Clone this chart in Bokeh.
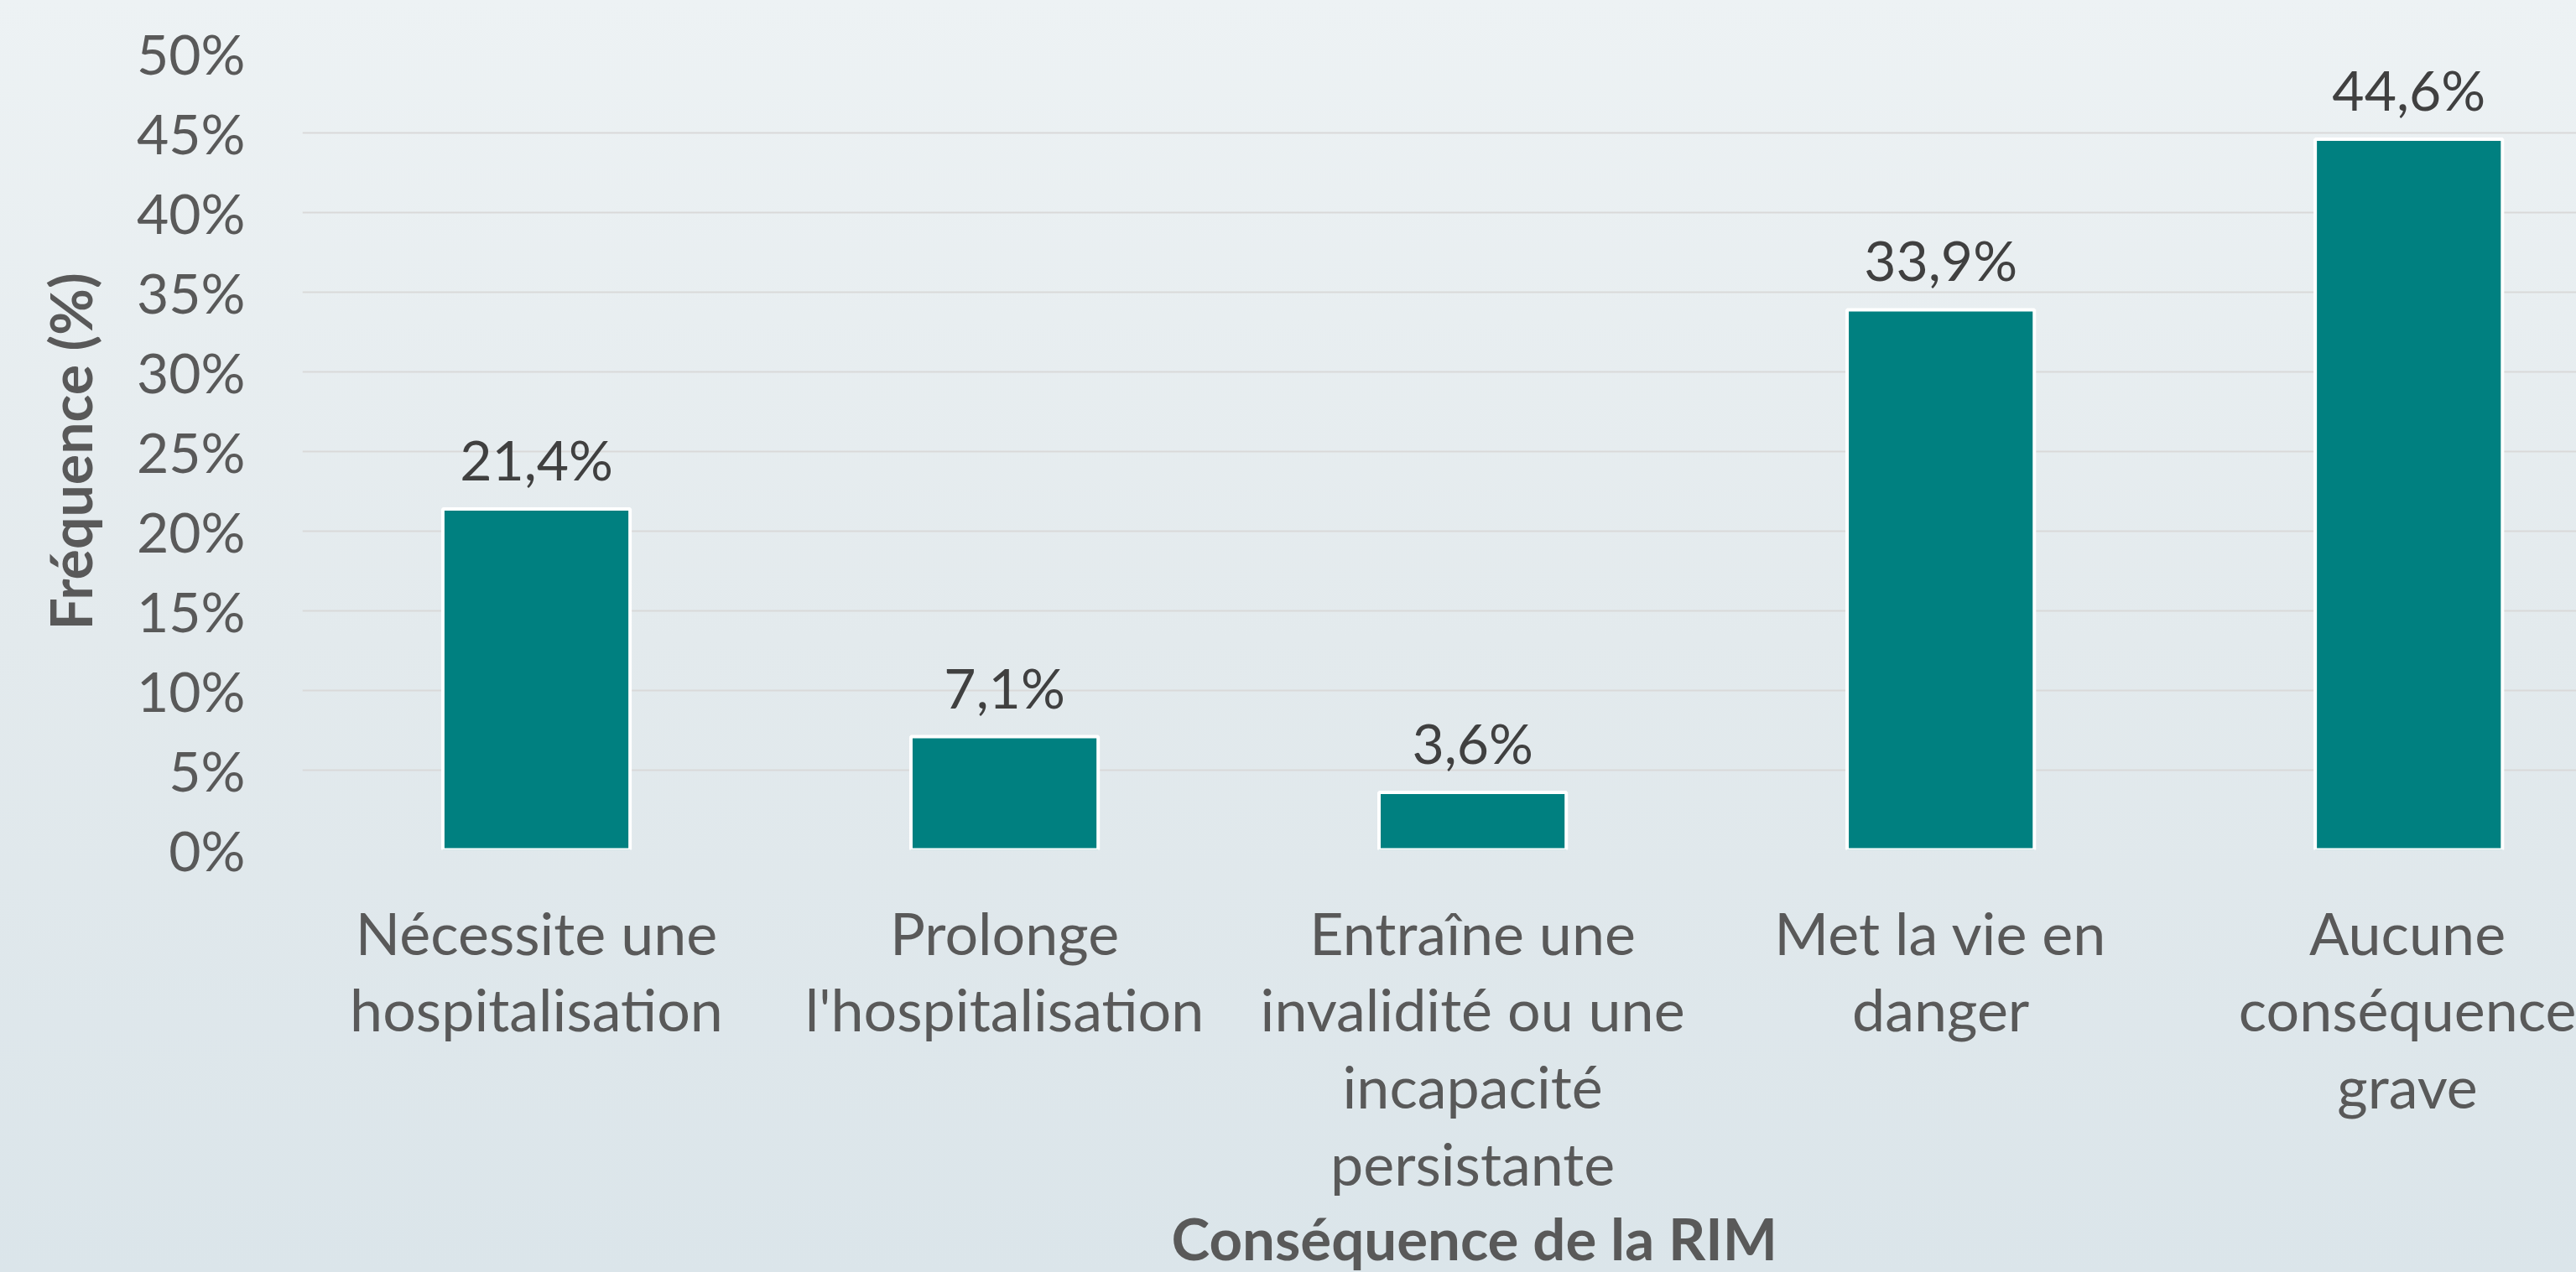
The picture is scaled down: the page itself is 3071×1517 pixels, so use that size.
from bokeh.plotting import figure
from bokeh.models import (Range1d, FixedTicker, PrintfTickFormatter, Title,
                          ColumnDataSource, InlineStyleSheet)
from bokeh.core.properties import value
from bokeh.embed import file_html
from bokeh.resources import INLINE

# ---- data ----
categories = [
    "Nécessite une\nhospitalisation",
    "Prolonge\nl'hospitalisation",
    "Entraîne une\ninvalidité ou une\nincapacité\npersistante",
    "Met la vie en\ndanger",
    "Aucune\nconséquence\ngrave",
]
values = [21.4, 7.1, 3.6, 33.9, 44.6]
y_ticks = [0, 5, 10, 15, 20, 25, 30, 35, 40, 45, 50]
x_title = "Conséquence de la RIM"
y_title = "Fréquence (%)"

FONT = "Lato"
TXT = "#595959"

positions = list(range(len(categories)))
labels = [f"{v:.1f}".replace(".", ",") + "%" for v in values]
src = ColumnDataSource(dict(x=positions, top=values, label=labels))

css = InlineStyleSheet(css=":host { background: linear-gradient(180deg, #edf2f4 0%, #e3eaed 50%, #dbe5ea 100%); }")

p = figure(width=3071, height=1517, output_backend="svg", toolbar_location=None,
           x_range=Range1d(-0.5, 4.358), y_range=Range1d(0, 50))
p.stylesheets = [css]
p.background_fill_alpha = 0
p.border_fill_alpha = 0
p.outline_line_color = None
p.min_border_left = 360
p.min_border_right = 0
p.min_border_top = 63
p.min_border_bottom = 499

p.vbar(x="x", top="top", width=0.40, source=src, fill_color="#008080",
       line_color="white", line_width=4)

p.text(x="x", y="top", text="label", source=src, text_align="center",
       text_baseline="bottom", y_offset=-20, text_font=value(FONT),
       text_font_size="66px", text_color="#404040")

# x axis
xa = p.xaxis[0]
xa.ticker = FixedTicker(ticks=positions)
xa.major_label_overrides = {i: c for i, c in enumerate(categories)}
xa.major_label_text_font = FONT
xa.major_label_text_font_size = "70px"
xa.major_label_text_color = TXT
xa.major_label_text_line_height = 1.095
xa.major_label_standoff = 50
xa.axis_line_color = None
xa.major_tick_line_color = None
xa.minor_tick_line_color = None

# y axis
ya = p.yaxis[0]
ya.ticker = FixedTicker(ticks=y_ticks)
ya.formatter = PrintfTickFormatter(format="%d%%")
ya.major_label_text_font = FONT
ya.major_label_text_font_size = "66px"
ya.major_label_text_color = TXT
ya.major_label_standoff = 62
ya.axis_line_color = None
ya.major_tick_line_color = None
ya.minor_tick_line_color = None
ya.axis_label = y_title
ya.axis_label_text_font = FONT
ya.axis_label_text_font_style = "bold"
ya.axis_label_text_font_size = "68px"
ya.axis_label_text_color = TXT
ya.axis_label_standoff = 36

p.xgrid.grid_line_color = None
p.ygrid.ticker = FixedTicker(ticks=y_ticks)
p.ygrid.grid_line_color = "#d9d9d9"
p.ygrid.grid_line_width = 2

p.add_layout(Title(text=x_title, align="left", offset=1036, standoff=0,
                   text_font=FONT, text_font_style="bold",
                   text_font_size="69px", text_color=TXT), "below")

open("out.html", "w").write(file_html(p, INLINE))
